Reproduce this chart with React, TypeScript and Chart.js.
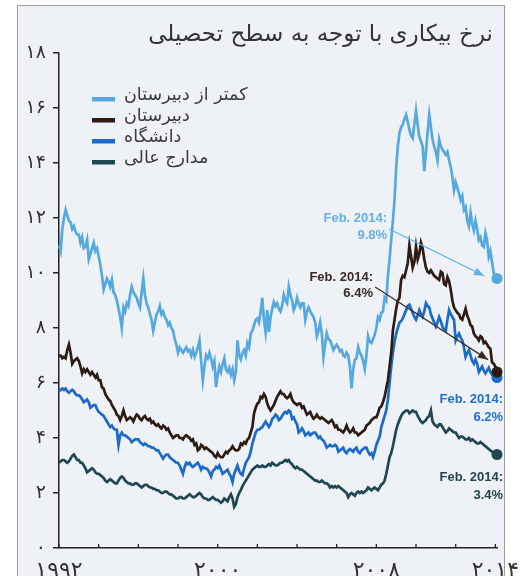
import React, { useEffect, useRef } from "react";
import { Chart, registerables } from "chart.js";
Chart.register(...registerables);

const title = "نرخ بیکاری با توجه به سطح تحصیلی";
const seriesNames = ["کمتر از دبیرستان", "دبیرستان", "دانشگاه", "مدارج عالی"];
const seriesColors = ["#56a9e0", "#2e1b14", "#1d6bc8", "#1f4852"];
const startYear = 1992;

// monthly values, Jan 1992 .. Feb 2014
const lessThanHS = [
  11.0, 10.8, 11.6, 12.0, 12.3, 12.1, 11.9, 11.85, 11.6, 11.7, 11.5, 11.4,
  11.4, 11.1, 11.3, 10.9, 10.95, 11.2, 10.5, 10.7, 10.9, 11.1, 10.8, 10.9,
  10.6, 10.3, 9.9, 9.4, 9.6, 9.8, 9.7, 9.5, 9.75, 9.3, 9.2, 9.0,
  8.7, 8.4, 8.0, 8.75, 8.6, 8.9, 8.8, 9.2, 9.5, 9.3, 9.2, 9.1,
  8.9, 8.75, 9.3, 9.8, 9.2, 8.9, 8.75, 8.5, 8.3, 7.9, 8.2, 8.5,
  8.6, 8.8, 8.5, 8.6, 8.4, 8.3, 8.1, 8.2, 8.0, 7.9, 7.6, 7.4,
  7.1, 7.3, 7.2, 7.1, 7.2, 7.3, 7.15, 7.2, 7.0, 7.2, 6.95, 7.1,
  7.3, 7.55, 6.8, 6.1, 6.6, 7.0, 6.9, 7.1, 6.9, 6.6, 6.8, 5.85,
  6.3, 6.6, 6.4, 6.7, 6.9, 6.5, 6.4, 6.55, 6.3, 6.5, 6.1, 6.4,
  7.55, 7.0, 6.85, 7.1, 7.2, 7.0, 7.45, 7.3, 7.8, 7.9, 8.1, 8.3,
  8.35, 8.2, 8.6, 9.1, 8.3, 7.85, 8.65, 7.85, 8.4, 8.7, 8.95, 8.8,
  8.9, 8.7, 8.6, 8.8, 9.2, 9.0, 8.9, 9.5, 9.2, 9.0, 8.65, 8.8,
  9.1, 8.9, 8.75, 8.9, 8.9, 8.3, 8.6, 8.75, 8.6, 8.5, 8.4, 8.2,
  7.7, 7.9, 8.2, 7.8, 6.95, 7.4, 7.8, 7.6, 7.55, 7.4, 7.2, 7.3,
  7.4, 7.3, 7.15, 7.2, 7.0, 6.95, 7.1, 7.0, 6.6, 5.8, 6.5, 6.85,
  6.9, 7.3, 7.1, 7.0, 6.8, 6.5, 7.0, 7.7, 7.5, 7.45, 7.6, 7.75,
  8.0, 8.4, 8.3, 8.55, 8.6, 9.1, 9.0, 9.9, 10.5, 11.2, 11.9, 12.65,
  13.85, 14.6, 15.1, 15.3, 15.4, 15.6, 15.75, 15.5, 15.2, 15.0, 14.9, 15.4,
  15.9, 15.4, 14.95, 14.8, 14.6, 13.7, 14.4, 15.1, 15.75, 15.3, 14.85, 14.6,
  14.4, 14.1, 14.85, 14.6, 14.5, 14.4, 14.3, 14.4, 14.1, 13.85, 13.5, 13.0,
  13.3, 13.1, 12.9, 12.65, 12.8, 12.3, 12.4, 11.9, 11.7, 12.2, 11.8, 11.55,
  11.9, 11.6, 11.2, 11.3, 11.0, 10.95, 11.45, 11.2, 10.6, 10.8, 10.4, 10.0,
  9.9, 9.8,
];
const highSchool = [
  7.0, 7.0, 6.9, 6.95, 6.9, 7.2, 7.4, 7.1, 6.7, 6.8, 6.85, 6.9,
  6.8, 6.6, 6.35, 6.5, 6.4, 6.5, 6.4, 6.3, 6.4, 6.3, 6.2, 6.3,
  6.1, 6.1, 5.85, 5.8, 5.6, 5.5, 5.4, 5.35, 5.2, 5.1, 5.0, 4.85,
  4.8, 4.65, 4.8, 5.0, 4.8, 4.65, 4.7, 4.75, 4.7, 4.6, 4.75, 4.85,
  4.8, 4.7, 4.65, 4.75, 4.8, 4.7, 4.65, 4.7, 4.55, 4.6, 4.5, 4.45,
  4.5, 4.4, 4.35, 4.45, 4.4, 4.3, 4.35, 4.2, 4.1, 4.0, 4.05, 4.1,
  4.1, 4.0, 4.0, 3.95, 4.05, 4.1, 4.05, 4.0, 3.9, 3.95, 3.75, 3.8,
  3.55, 3.6, 3.75, 3.7, 3.6, 3.65, 3.6, 3.55, 3.5, 3.45, 3.35, 3.3,
  3.45, 3.35, 3.3, 3.3, 3.4, 3.5, 3.45, 3.55, 3.6, 3.7, 3.6, 3.55,
  3.55, 3.6, 3.8, 3.75, 3.85, 3.8, 3.95, 4.0, 4.2, 4.4, 4.9, 5.1,
  5.25, 5.3, 5.5, 5.45, 5.6, 5.5, 5.25, 5.1, 5.0, 5.1, 5.2, 5.35,
  5.5, 5.6, 5.7, 5.6, 5.6, 5.5, 5.45, 5.5, 5.6, 5.4, 5.3, 5.25,
  5.2, 5.25, 5.25, 5.1, 5.15, 5.0, 4.85, 4.9, 4.95, 4.8, 4.7, 4.75,
  4.85, 4.75, 4.7, 4.75, 4.7, 4.65, 4.6, 4.55, 4.6, 4.65, 4.55, 4.4,
  4.45, 4.3, 4.3, 4.25, 4.2, 4.3, 4.45, 4.3, 4.2, 4.25, 4.35, 4.2,
  4.2, 4.1, 4.15, 4.2, 4.25, 4.3, 4.45, 4.5, 4.55, 4.65, 4.7, 4.75,
  4.75, 4.9, 5.1, 5.15, 5.3, 5.5, 5.8, 6.1, 6.6, 7.1, 7.9, 8.3,
  8.7, 9.0, 9.1, 9.75, 9.9, 9.85, 10.1, 10.35, 11.0, 10.6, 10.2, 10.4,
  10.95, 10.5, 10.7, 11.1, 10.9, 10.5, 10.2, 10.05, 10.0, 10.1, 10.0, 9.9,
  9.85, 9.8, 9.75, 10.05, 10.0, 9.6, 9.55, 9.85, 9.7, 9.4, 9.0, 8.75,
  8.65, 8.55, 8.5, 8.35, 8.3, 8.5, 8.7, 8.45, 8.3, 8.1, 8.05, 7.8,
  7.7, 7.65, 7.55, 7.7, 7.65, 7.45, 7.5, 7.4, 7.3, 7.25, 6.75, 6.7,
  6.6, 6.4,
];
const someCollege = [
  5.7, 5.75, 5.8, 5.75, 5.8, 5.7, 5.65, 5.7, 5.75, 5.7, 5.6, 5.55,
  5.55, 5.5, 5.4, 5.3, 5.35, 5.4, 5.3, 5.1, 5.15, 5.2, 5.2, 5.05,
  4.95, 4.9, 4.85, 4.8, 4.7, 4.6, 4.5, 4.4, 4.45, 4.35, 4.3, 4.3,
  3.75, 4.1, 4.2, 4.1, 4.1, 4.05, 4.0, 3.95, 3.85, 3.9, 3.95, 3.95,
  3.95, 3.85, 3.8, 3.75, 3.8, 3.75, 3.7, 3.7, 3.65, 3.65, 3.6, 3.55,
  3.55, 3.45, 3.35, 3.25, 3.35, 3.4, 3.4, 3.3, 3.25, 3.2, 3.15, 3.1,
  3.1, 3.0, 2.85, 2.7, 2.95, 3.1, 3.05, 3.1, 3.0, 2.95, 3.0, 3.05,
  3.1, 3.0, 2.85, 2.95, 2.9, 2.9, 2.85, 2.75, 2.6, 2.8, 2.85, 2.95,
  2.9, 3.0, 2.85, 2.7, 2.75, 2.8, 2.85, 2.7, 2.6, 2.4, 2.7, 2.85,
  3.0, 2.8, 2.7, 2.65, 2.9, 3.1, 3.2, 3.3, 3.5, 3.8, 4.0, 4.2,
  4.3, 4.3, 4.35, 4.4, 4.5, 4.6, 4.5, 4.4, 4.5, 4.7, 4.75, 4.85,
  4.8, 4.65, 4.7, 4.8, 4.9, 4.95, 4.9, 5.0, 4.95, 4.7, 4.75, 4.6,
  4.5, 4.2, 4.25, 4.35, 4.25, 4.1, 4.15, 4.2, 4.1, 4.15, 4.2, 4.2,
  4.1, 4.0, 4.05, 3.95, 3.9, 3.8, 3.65, 3.7, 3.75, 3.7, 3.7, 3.75,
  3.7, 3.5, 3.55, 3.6, 3.65, 3.5, 3.45, 3.55, 3.6, 3.55, 3.5, 3.6,
  3.65, 3.5, 3.45, 3.55, 3.6, 3.65, 3.65, 3.5, 3.4, 3.45, 3.3, 3.5,
  3.75, 3.9, 4.05, 4.4, 4.6, 4.8, 5.0, 5.4, 6.0, 6.6, 7.1, 7.5,
  7.8, 8.0, 8.2, 8.25, 8.35, 8.5, 8.65, 8.8, 8.85, 8.7, 8.55, 8.4,
  8.3, 8.45, 8.65, 8.5, 8.4, 8.6, 8.9, 8.8, 8.75, 8.5, 8.35, 8.2,
  8.05, 8.2, 8.4, 8.25, 8.05, 7.95, 7.9, 8.3, 8.65, 8.5, 8.4, 8.3,
  7.55, 7.7, 7.8, 7.65, 7.55, 7.3, 6.95, 7.1, 7.2, 7.0, 6.8, 6.7,
  6.85, 6.7, 6.4, 6.5, 6.6, 6.45, 6.35, 6.45, 6.55, 6.4, 6.3, 6.3,
  6.3, 6.2,
];
const bachelors = [
  3.1, 3.15, 3.2, 3.2, 3.15, 3.1, 3.15, 3.25, 3.35, 3.4, 3.3, 3.2,
  3.2, 3.1, 3.1, 3.0, 2.9, 2.75, 2.8, 2.85, 2.9, 2.85, 2.75, 2.7,
  2.7, 2.65, 2.6, 2.55, 2.45, 2.4, 2.45, 2.5, 2.45, 2.4, 2.35, 2.35,
  2.45, 2.55, 2.6, 2.55, 2.45, 2.4, 2.35, 2.35, 2.3, 2.3, 2.35, 2.35,
  2.3, 2.25, 2.2, 2.25, 2.3, 2.3, 2.25, 2.2, 2.2, 2.15, 2.15, 2.1,
  2.1, 2.05, 2.0, 2.0, 2.05, 2.05, 2.0, 1.95, 1.95, 1.9, 1.85, 1.8,
  1.8, 1.85, 1.85, 1.8, 1.8, 1.85, 1.9, 1.95, 1.9, 1.85, 1.85, 1.9,
  1.95, 2.0, 1.95, 1.85, 1.8, 1.8, 1.75, 1.75, 1.8, 1.85, 1.8, 1.75,
  1.75, 1.7, 1.65, 1.7, 1.8, 1.75, 1.7, 1.85, 1.95, 1.8, 1.5, 1.6,
  1.85, 2.0, 2.1, 2.25, 2.35, 2.45, 2.55, 2.65, 2.75, 2.85, 2.9, 2.95,
  3.0, 2.95, 2.95, 3.0, 2.95, 2.95, 3.0, 3.05, 3.0, 3.1, 3.05, 3.0,
  3.0, 3.05, 3.1, 3.1, 3.15, 3.2, 3.15, 3.2, 3.1, 3.05, 2.95, 2.9,
  2.95, 2.9, 2.85, 2.85, 2.8, 2.75, 2.7, 2.65, 2.6, 2.55, 2.5, 2.45,
  2.45, 2.4, 2.4, 2.45, 2.4, 2.35, 2.35, 2.3, 2.2, 2.25, 2.2, 2.25,
  2.2, 2.25, 2.2, 2.15, 2.1, 2.05, 2.0, 1.85, 1.95, 2.0, 1.95, 1.9,
  2.0, 2.05, 2.0, 2.05, 2.0, 2.05, 2.1, 2.2, 2.15, 2.1, 2.15, 2.2,
  2.15, 2.1, 2.2, 2.3, 2.35, 2.45, 2.7, 3.0, 3.3, 3.45, 3.7, 4.0,
  4.3, 4.5, 4.65, 4.8, 4.9, 4.95, 5.0, 5.0, 4.9, 4.95, 5.0, 4.95,
  4.95, 4.8, 4.7, 4.6, 4.55, 4.6, 4.65, 4.75, 4.8, 5.0, 4.6, 4.5,
  4.45, 4.4, 4.5, 4.5, 4.4, 4.3, 4.2, 4.25, 4.35, 4.3, 4.25, 4.2,
  4.2, 4.1, 4.0, 4.05, 4.05, 4.0, 3.95, 3.95, 4.0, 3.9, 3.95, 3.9,
  3.85, 3.8, 3.8, 3.85, 3.8, 3.75, 3.7, 3.65, 3.6, 3.55, 3.5, 3.45,
  3.5, 3.4,
];

const yTickValues = [0, 2, 4, 6, 8, 10, 12, 14, 16, 18];
const yTickLabels = ["۰", "۲", "۴", "۶", "۸", "۱۰", "۱۲", "۱۴", "۱۶", "۱۸"];
const xLabelYears = [1992, 2000, 2008, 2014];
const xLabelTexts = ["۱۹۹۲", "۲۰۰۰", "۲۰۰۸", "۲۰۱۴"];

const endLabels = [
  { text: ["Feb. 2014:", "9.8%"], color: "#62b0e6", x: 2008.54, y: [12.0, 11.38], arrow: [2008.64, 11.6, 2013.43, 9.9] },
  { text: ["Feb. 2014:", "6.4%"], color: "#3b2a23", x: 2007.83, y: [9.85, 9.24], arrow: [2007.94, 9.49, 2013.63, 6.85] },
  { text: ["Feb. 2014:", "6.2%"], color: "#1f6fcc", x: 2014.39, y: [5.4, 4.76], arrow: null },
  { text: ["Feb. 2014:", "3.4%"], color: "#24464f", x: 2014.39, y: [2.55, 1.93], arrow: null },
];

const allSeries = [lessThanHS, highSchool, someCollege, bachelors];

const decor = {
  id: "decor",
  afterDraw(chart: any) {
    const { ctx, chartArea, scales } = chart;
    const x = scales.x;
    const y = scales.y;
    ctx.save();
    // x ticks (inside)
    ctx.strokeStyle = "#222";
    ctx.lineWidth = 1.3;
    x.ticks.forEach((t: any) => {
      const px = x.getPixelForValue(t.value);
      ctx.beginPath();
      ctx.moveTo(px, chartArea.bottom);
      ctx.lineTo(px, chartArea.bottom - 4);
      ctx.stroke();
    });
    // title
    ctx.font = '23px "DejaVu Sans"';
    ctx.fillStyle = "#333";
    ctx.textAlign = "right";
    ctx.textBaseline = "middle";
    ctx.fillText(title, 493, 35);
    // legend
    ctx.font = '17.5px "DejaVu Sans"';
    ctx.textAlign = "left";
    const legendY = [95, 116, 137, 158];
    seriesNames.forEach((name, i) => {
      ctx.fillStyle = seriesColors[i];
      ctx.fillRect(92, legendY[i] + 2, 23, 4.5);
      ctx.fillStyle = "#3a3a3a";
      ctx.fillText(name, 124, legendY[i]);
    });
    // end labels
    ctx.font = 'bold 13px "Liberation Sans"';
    ctx.textAlign = "right";
    endLabels.forEach((a) => {
      ctx.fillStyle = a.color;
      const px = x.getPixelForValue(a.x);
      a.text.forEach((t, k) => ctx.fillText(t, px, y.getPixelForValue(a.y[k])));
      if (a.arrow) {
        const x0 = x.getPixelForValue(a.arrow[0]);
        const y0 = y.getPixelForValue(a.arrow[1]);
        const x1 = x.getPixelForValue(a.arrow[2]);
        const y1 = y.getPixelForValue(a.arrow[3]);
        ctx.strokeStyle = a.color;
        ctx.lineWidth = 1.2;
        ctx.beginPath();
        ctx.moveTo(x0, y0);
        ctx.lineTo(x1, y1);
        ctx.stroke();
        const ang = Math.atan2(y1 - y0, x1 - x0);
        const L = 10, W = 4;
        ctx.beginPath();
        ctx.moveTo(x1, y1);
        ctx.lineTo(x1 - L * Math.cos(ang) + W * Math.sin(ang), y1 - L * Math.sin(ang) - W * Math.cos(ang));
        ctx.lineTo(x1 - L * Math.cos(ang) - W * Math.sin(ang), y1 - L * Math.sin(ang) + W * Math.cos(ang));
        ctx.closePath();
        ctx.fill();
      }
    });
    ctx.restore();
  },
};

export default function App() {
  const ref = useRef<HTMLCanvasElement>(null);
  useEffect(() => {
    const datasets = allSeries.map((vals, i) => ({
      label: seriesNames[i],
      data: vals.map((v, k) => ({ x: startYear + k / 12, y: v })),
      borderColor: seriesColors[i],
      backgroundColor: seriesColors[i],
      borderWidth: 2.7,
      tension: 0,
      clip: false as any,
      pointRadius: vals.map((_, k) => (k === vals.length - 1 ? 5.5 : 0)),
      pointBorderWidth: 0,
      pointBackgroundColor: seriesColors[i],
    }));
    const lastX = startYear + (lessThanHS.length - 1) / 12;
    const chart = new Chart(ref.current!, {
      type: "line",
      data: { datasets },
      plugins: [decor],
      options: {
        animation: false,
        responsive: false,
        devicePixelRatio: 1,
        layout: { padding: { top: 53, right: 31, left: 0, bottom: 0 } },
        plugins: { legend: { display: false }, tooltip: { enabled: false } },
        scales: {
          x: {
            type: "linear",
            min: startYear,
            max: lastX,
            afterBuildTicks: (s: any) => {
              const t = [];
              for (let v = startYear; v <= lastX; v += 2) t.push({ value: v });
              s.ticks = t;
            },
            afterFit: (s: any) => { s.height = 28; },
            grid: { display: false },
            border: { display: true, color: "#222", width: 1.5 },
            ticks: {
              autoSkip: false,
              maxRotation: 0,
              padding: 2,
              color: "#333",
              font: { family: "DejaVu Sans", size: 22 },
              callback: (v: any) => {
                const idx = xLabelYears.indexOf(Math.round(Number(v)));
                return idx >= 0 ? xLabelTexts[idx] : "";
              },
            },
          },
          y: {
            min: 0,
            max: 18,
            afterBuildTicks: (s: any) => { s.ticks = yTickValues.map((v) => ({ value: v })); },
            afterFit: (s: any) => { s.width = 59; },
            grid: { drawOnChartArea: false, drawTicks: true, tickLength: 6, color: "#222", lineWidth: 1.5 },
            border: { display: true, color: "#222", width: 1.5 },
            ticks: {
              padding: 7,
              color: "#333",
              font: { family: "DejaVu Sans", size: 19 },
              callback: (v: any) => {
                const idx = yTickValues.indexOf(Number(v));
                return idx >= 0 ? yTickLabels[idx] : "";
              },
            },
          },
        },
      },
    });
    return () => chart.destroy();
  }, []);
  return (
    <div style={{ position: "fixed", left: 0, top: 0, width: 528, height: 576, background: "#fff", overflow: "hidden" }}>
      <div style={{ position: "absolute", left: 17, top: 5, width: 486, height: 620, border: "1.5px solid #9d9d9d", background: "#eef1f5" }} />
      <canvas ref={ref} width={528} height={576} style={{ position: "absolute", left: 0, top: 0, width: 528, height: 576 }} />
    </div>
  );
}
